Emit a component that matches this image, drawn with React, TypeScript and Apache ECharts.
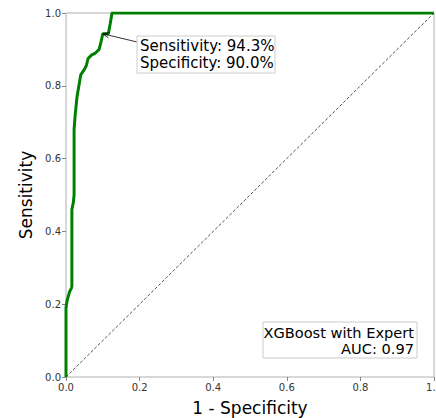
import React, { useEffect, useRef } from "react";
import * as echarts from "echarts";

const fpr = [0, 0, 0.003, 0.01, 0.015, 0.016, 0.016, 0.02, 0.022, 0.022, 0.025, 0.03, 0.035, 0.04, 0.05, 0.055, 0.06, 0.07, 0.08, 0.09, 0.095, 0.1, 0.115, 0.12, 0.125, 1];
const tpr = [0, 0.19, 0.21, 0.235, 0.245, 0.25, 0.46, 0.48, 0.5, 0.68, 0.72, 0.77, 0.8, 0.83, 0.845, 0.855, 0.875, 0.885, 0.89, 0.9, 0.92, 0.943, 0.943, 0.97, 1.0, 1.0];
const diagonal = [0, 1];
const ticks = [0, 0.2, 0.4, 0.6, 0.8, 1.0];
const optimal = { fpr: 0.1, tpr: 0.943 };
const annotationLines = ["Sensitivity: 94.3%", "Specificity: 90.0%"];
const legendLines = ["XGBoost with Expert", "AUC: 0.97"];

const FONT = "DejaVu Sans";

export default function App() {
  const ref = useRef<HTMLDivElement>(null);
  useEffect(() => {
    if (!ref.current) return;
    const chart = echarts.init(ref.current, undefined, { renderer: "svg" });
    chart.setOption({
      animation: false,
      grid: {
        left: 66,
        right: 2,
        top: 13,
        bottom: 41,
        show: true,
        borderColor: "#b0b0b0",
        borderWidth: 1,
        containLabel: false,
        outerBoundsMode: "none",
      },
      xAxis: {
        type: "value",
        min: ticks[0],
        max: ticks[ticks.length - 1],
        interval: 0.2,
        name: "1 - Specificity",
        nameLocation: "middle",
        nameGap: 22,
        nameTextStyle: { fontFamily: FONT, fontSize: 17, color: "#000" },
        axisLine: { show: false },
        axisTick: { show: true, length: 4, lineStyle: { color: "#888" } },
        splitLine: { show: false },
        axisLabel: {
          fontFamily: FONT,
          fontSize: 10,
          color: "#333",
          margin: 5,
          hideOverlap: false,
          formatter: (v: number) => v.toFixed(1),
        },
      },
      yAxis: {
        type: "value",
        min: ticks[0],
        max: ticks[ticks.length - 1],
        interval: 0.2,
        name: "Sensitivity",
        nameLocation: "middle",
        nameGap: 32,
        nameTextStyle: { fontFamily: FONT, fontSize: 17, color: "#000" },
        axisLine: { show: false },
        axisTick: { show: true, length: 4, lineStyle: { color: "#888" } },
        splitLine: { show: false },
        axisLabel: {
          fontFamily: FONT,
          fontSize: 10,
          color: "#333",
          margin: 5,
          formatter: (v: number) => v.toFixed(1),
        },
      },
      series: [
        {
          type: "line",
          data: diagonal.map((d) => [d, d]),
          showSymbol: false,
          lineStyle: { color: "#222", width: 0.8, type: [3, 2] },
          z: 2,
        },
        {
          type: "line",
          data: fpr.map((x, i) => [x, tpr[i]]),
          showSymbol: false,
          lineStyle: { color: "#008000", width: 3 },
          z: 3,
        },
      ],
    });

    const [px, py] = chart.convertToPixel({ gridIndex: 0 }, [optimal.fpr, optimal.tpr]) as number[];
    const boxX = 137, boxY = 36, boxW = 138, boxH = 37;
    const sx = boxX, sy = boxY + 6;
    const ang = Math.atan2(sy - py, sx - px);
    const ah = 7, aw = 0.4;
    const h1 = [px + ah * Math.cos(ang + aw), py + ah * Math.sin(ang + aw)];
    const h2 = [px + ah * Math.cos(ang - aw), py + ah * Math.sin(ang - aw)];

    const lgX = 263, lgY = 322, lgW = 154, lgH = 36;

    chart.setOption({
      graphic: [
        {
          type: "line",
          shape: { x1: sx, y1: sy, x2: px, y2: py },
          style: { stroke: "#000", lineWidth: 0.8 },
          z: 10,
        },
        {
          type: "polyline",
          shape: { points: [h1, [px, py], h2] },
          style: { stroke: "#000", lineWidth: 0.8, fill: "none" },
          z: 10,
        },
        {
          type: "rect",
          shape: { x: boxX, y: boxY, width: boxW, height: boxH },
          style: { fill: "#fff", stroke: "#cccccc", lineWidth: 1 },
          z: 10,
        },
        ...annotationLines.map((t, i) => ({
          type: "text",
          x: boxX + 3,
          y: boxY + 10 + i * 16.5,
          style: { text: t, fontFamily: FONT, fontSize: 15, fill: "#000", align: "left", verticalAlign: "middle" },
          z: 11,
        })),
        {
          type: "rect",
          shape: { x: lgX, y: lgY, width: lgW, height: lgH },
          style: { fill: "#fff", stroke: "#cccccc", lineWidth: 1 },
          z: 10,
        },
        ...legendLines.map((t, i) => ({
          type: "text",
          x: lgX + lgW - 3,
          y: lgY + 10 + i * 16.5,
          style: { text: t, fontFamily: FONT, fontSize: 14.6, fill: "#000", align: "right", verticalAlign: "middle" },
          z: 11,
        })),
      ],
    });
    return () => chart.dispose();
  }, []);
  return <div ref={ref} style={{ width: 436, height: 418, position: "absolute", left: 0, top: 0 }} />;
}
